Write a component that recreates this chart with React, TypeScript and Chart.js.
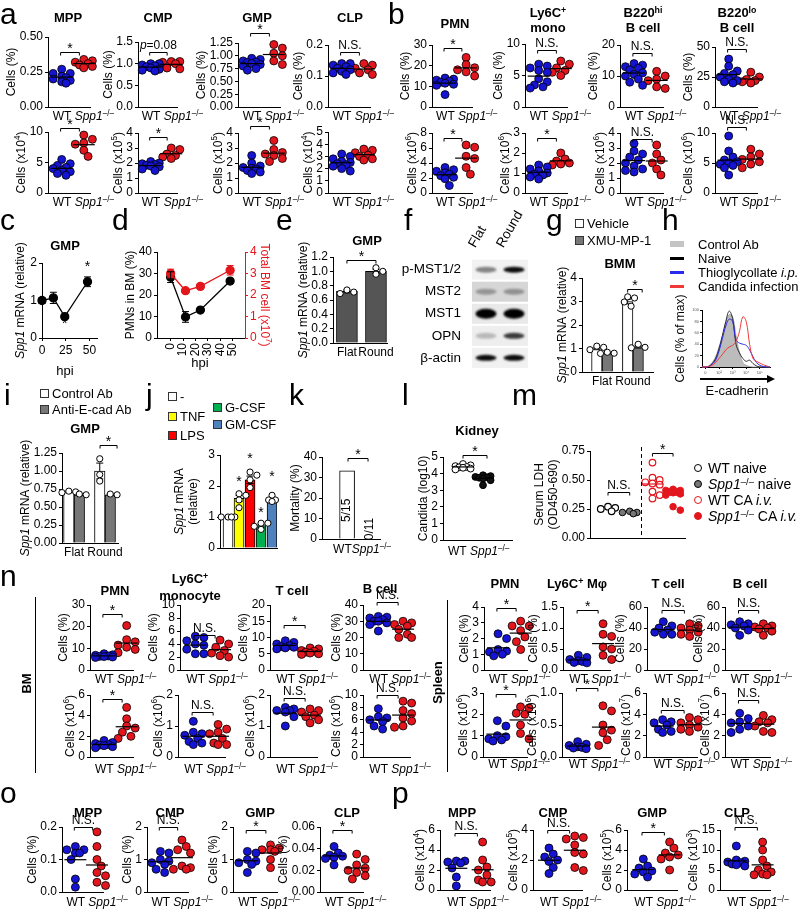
import React, { useEffect, useRef } from 'react';
import { Chart, registerables } from 'chart.js';

Chart.register(...registerables);

const FONT = '"Liberation Sans", Arial, Helvetica, sans-serif';
const BLUE = '#1414d2';
const RED = '#e3161d';

/* ================= DATA ================= */
// panel a
const aMppPctWT = [0.27, 0.24, 0.24, 0.22, 0.21, 0.2, 0.19, 0.18, 0.17];
const aMppPctKO = [0.34, 0.33, 0.32, 0.31, 0.3, 0.29, 0.28];
const aCmpPctWT = [1.0, 1.0, 0.97, 0.95, 0.93, 0.9, 0.87, 0.85, 0.83];
const aCmpPctKO = [1.05, 1.05, 1.03, 1.0, 0.9, 0.88];
const aGmpPctWT = [0.95, 0.93, 0.9, 0.88, 0.87, 0.85, 0.83, 0.8, 0.75, 0.72];
const aGmpPctKO = [1.22, 1.15, 1.05, 1.0, 0.9, 0.83];
const aClpPctWT = [0.14, 0.14, 0.135, 0.13, 0.125, 0.12, 0.115, 0.11, 0.105];
const aClpPctKO = [0.14, 0.135, 0.125, 0.12, 0.11, 0.105];
const aMppNumWT = [5.5, 4.8, 4.5, 4.2, 4.0, 3.7, 3.5, 3.2, 2.9];
const aMppNumKO = [9.5, 8.8, 8.2, 8.0, 7.0, 6.0];
const aCmpNumWT = [2.1, 2.0, 1.95, 1.9, 1.85, 1.8, 1.75, 1.6, 1.5];
const aCmpNumKO = [3.0, 2.9, 2.6, 2.5, 2.4, 2.3];
const aGmpNumWT = [2.5, 2.0, 1.8, 1.7, 1.65, 1.6, 1.5, 1.4, 1.3];
const aGmpNumKO = [3.5, 2.9, 2.7, 2.6, 2.5, 2.3, 2.1];
const aClpNumWT = [3.2, 3.0, 2.8, 2.6, 2.5, 2.4, 2.3, 2.2, 2.0, 1.8];
const aClpNumKO = [3.6, 3.5, 3.3, 3.1, 3.0, 2.8, 2.7];
// panel b
const bPmnPctWT = [14, 13.5, 13, 12.5, 12, 11.5, 11, 10.5, 6];
const bPmnPctKO = [24, 20.5, 19, 18, 17, 15];
const bMonoPctWT = [6.8, 6.5, 6.2, 5.8, 5.5, 4.5, 4.0, 3.5, 3.2, 3.0];
const bMonoPctKO = [7.3, 6.8, 6.2, 5.8, 5.5, 5.0];
const bBhiPctWT = [14, 13.5, 13, 12.5, 12, 11, 10.5, 10, 9, 8, 7];
const bBhiPctKO = [11.5, 10, 9, 8.5, 6.5, 6];
const bBloPctWT = [40, 34, 30, 28, 27, 25, 23, 22, 21, 20];
const bBloPctKO = [29, 25, 23, 22, 21, 20];
const bPmnNumWT = [3.4, 3.1, 2.9, 2.7, 2.5, 2.3, 2.1, 1.9, 1.0];
const bPmnNumKO = [6.4, 6.1, 4.9, 4.6, 3.4, 2.5];
const bMonoNumWT = [1.4, 1.3, 1.2, 1.1, 1.0, 0.95, 0.9, 0.8, 0.7];
const bMonoNumKO = [2.0, 1.7, 1.6, 1.5, 1.45, 1.4];
const bBhiNumWT = [3.3, 2.8, 2.6, 2.4, 2.2, 2.0, 1.8, 1.6, 1.5, 1.4];
const bBhiNumKO = [3.2, 2.6, 2.2, 2.0, 1.6, 1.2];
const bBloNumWT = [9.5, 7.0, 6.0, 5.5, 5.2, 5.0, 4.8, 4.6, 4.2, 3.0];
const bBloNumKO = [7.3, 6.5, 6.0, 5.6, 5.2, 4.8, 4.2];
// panel c
const cHpi = [0, 12, 24, 48];
const cMean = [1.0, 1.07, 0.57, 1.5];
const cErr = [0.08, 0.15, 0.03, 0.13];
// panel d
const dHpi = [0, 12, 24, 48];
const dPmn = [28.3, 9.8, 13, 26.5];
const dPmnErr = [2.5, 2.5, 0.8, 0.6];
const dTotal = [3.0, 2.2, 2.4, 3.15];
const dTotalErr = [0.2, 0.08, 0.06, 0.22];
// panel e
const eLabels = ['Flat', 'Round'];
const eMean = [0.72, 1.0];
const eErr = [0.02, 0.03];
const ePts = [[0.74, 0.71, 0.69], [1.05, 1.0, 0.96]];
// panel f (band intensities)
const fRows = ['p-MST1/2', 'MST2', 'MST1', 'OPN', 'β-actin'];
const fLanes = ['Flat', 'Round'];
const fFlat = [0.45, 0.3, 1.0, 0.22, 0.95];
const fRound = [0.95, 0.32, 1.0, 0.75, 0.95];
// panel g
const gVeh = [1.0, 3.0];
const gVehErr = [0.05, 0.1];
const gVehPts = [[1.1, 1.05, 0.95], [3.2, 3.15, 2.98, 2.8]];
const gXmu = [0.8, 1.08];
const gXmuErr = [0.03, 0.06];
const gXmuPts = [[0.84, 0.8, 0.79], [1.18, 1.05, 1.03]];
// panel h
const hBins = [0, 5, 10, 15, 20, 25, 30, 35, 40, 45, 50, 55, 60, 65, 70, 75, 80, 85, 90, 95, 100];
const hCtrl = [0, 0, 2, 8, 18, 35, 55, 78, 92, 88, 55, 25, 8, 3, 1, 0, 0, 0, 0, 0, 0];
const hNaive = [0, 0, 1, 6, 15, 32, 55, 80, 98, 85, 40, 25, 15, 10, 12, 6, 2, 0, 0, 0, 0];
const hThio = [0, 0, 1, 5, 12, 28, 50, 72, 84, 80, 48, 42, 40, 38, 30, 18, 8, 3, 1, 0, 0];
const hCand = [0, 0, 1, 3, 8, 15, 22, 30, 35, 38, 45, 62, 88, 80, 40, 15, 10, 7, 4, 2, 0];
// panel i
const iCtrl = [0.71, 1.0];
const iCtrlErr = [0.01, 0.11];
const iCtrlPts = [[0.72, 0.71, 0.7], [1.17, 0.95, 0.86]];
const iAnti = [0.67, 0.67];
const iAntiErr = [0.01, 0.01];
const iAntiPts = [[0.68, 0.67], [0.68, 0.67]];
// panel j
const jMean = [1.0, 1.6, 2.2, 0.72, 1.55];
const jErr = [0.01, 0.1, 0.12, 0.05, 0.05];
const jPts = [[1.0, 1.0, 1.0, 1.0], [1.75, 1.7, 1.55, 1.3], [2.45, 2.35, 2.2, 1.95], [0.8, 0.8, 0.7, 0.6], [1.7, 1.55, 1.55, 1.5]];
// panel k
const kMort = [33.3, 0];
const kText = ['5/15', '0/11'];
// panel l
const lWT = [4.58, 4.5, 4.45, 4.4, 4.38, 4.35, 4.3, 4.25];
const lKO = [3.9, 3.85, 3.8, 3.78, 3.75, 3.7, 3.6, 3.3];
// panel m
const mWtNaive = [0.27, 0.26, 0.25, 0.23];
const mKoNaive = [0.23, 0.22, 0.22, 0.21];
const mWtCA = [0.65, 0.52, 0.5, 0.48, 0.47, 0.46, 0.4, 0.37, 0.34];
const mKoCA = [0.42, 0.41, 0.41, 0.4, 0.4, 0.39, 0.38, 0.37, 0.27, 0.24];
// panel n (BM)
const nBmPmnPctWT = [7.5, 7.0, 6.8, 6.5, 6.3, 6.2, 6.0, 5.8];
const nBmPmnPctKO = [20.5, 14, 13, 11.5, 10.5, 9.5, 8];
const nBmMonoPctWT = [5.2, 5.0, 4.5, 4.0, 3.8, 3.2, 2.5, 2.5];
const nBmMonoPctKO = [4.6, 4.0, 3.5, 3.0, 2.6, 2.2, 2.0];
const nBmTPctWT = [9.0, 8.5, 8.0, 7.5, 7.2, 7.0, 6.8, 6.5];
const nBmTPctKO = [6.8, 6.5, 6.0, 5.8, 5.5, 5.2, 5.0, 4.8];
const nBmBPctWT = [33, 32.5, 32, 31, 30, 30, 29, 28, 24];
const nBmBPctKO = [30, 29, 28, 27, 25, 22, 20, 20];
const nBmPmnNumWT = [1.6, 1.4, 1.3, 1.2, 1.15, 1.1, 1.0, 0.9];
const nBmPmnNumKO = [4.8, 3.7, 3.0, 2.8, 2.4, 2.0, 1.8];
const nBmMonoNumWT = [1.15, 0.8, 0.75, 0.7, 0.6, 0.5, 0.45, 0.4];
const nBmMonoNumKO = [1.05, 0.9, 0.8, 0.75, 0.6, 0.45, 0.4, 0.4];
const nBmTNumWT = [1.6, 1.55, 1.5, 1.5, 1.45, 1.3, 1.0];
const nBmTNumKO = [1.55, 1.5, 1.45, 1.35, 1.3, 1.2, 1.1];
const nBmBNumWT = [7.8, 6.5, 6.3, 6.0, 5.7, 5.0, 4.5];
const nBmBNumKO = [9.0, 8.7, 7.5, 7.0, 6.3, 5.8, 5.0, 4.8];
// panel n (spleen)
const nSpPmnPctWT = [2.3, 2.0, 1.3, 1.2, 1.15, 1.0, 0.9];
const nSpPmnPctKO = [3.1, 2.8, 2.8, 2.5, 2.1, 1.8, 1.3];
const nSpMacPctWT = [0.35, 0.3, 0.25, 0.22, 0.2, 0.18, 0.17];
const nSpMacPctKO = [1.1, 0.85, 0.8, 0.55, 0.5, 0.35, 0.25];
const nSpTPctWT = [46, 42, 40, 38, 36, 34, 34];
const nSpTPctKO = [44, 42, 40, 38, 36, 34, 32];
const nSpBPctWT = [46, 44, 43, 42, 40, 38, 33];
const nSpBPctKO = [44, 42, 41, 40, 39, 37, 33];
const nSpPmnNumWT = [1.7, 1.45, 1.0, 0.95, 0.85, 0.8, 0.75];
const nSpPmnNumKO = [2.35, 2.3, 2.05, 2.0, 1.5, 1.1, 0.85];
const nSpMacNumWT = [0.24, 0.2, 0.18, 0.16, 0.15, 0.14, 0.13];
const nSpMacNumKO = [0.8, 0.72, 0.5, 0.42, 0.38, 0.27, 0.18];
const nSpTNumWT = [3.5, 3.3, 3.2, 3.0, 2.6, 2.4, 2.3];
const nSpTNumKO = [3.7, 3.5, 3.2, 3.0, 2.8, 2.6, 2.4];
const nSpBNumWT = [4.1, 3.6, 3.3, 3.2, 2.9, 2.6, 2.3];
const nSpBNumKO = [3.9, 3.5, 3.3, 3.2, 2.9, 2.4, 2.3];
// panel o
const oMppWT = [0.14, 0.13, 0.13, 0.12, 0.12, 0.1, 0.04, 0.015];
const oMppKO = [0.185, 0.14, 0.1, 0.08, 0.06, 0.05, 0.03, 0.02];
const oCmpWT = [1.25, 1.2, 1.0, 0.95, 0.9, 0.85, 0.7, 0.6];
const oCmpKO = [1.6, 1.4, 1.3, 1.2, 0.8, 0.75, 0.7, 0.7];
const oGmpWT = [1.25, 1.2, 1.0, 0.95, 0.9, 0.85, 0.6];
const oGmpKO = [1.45, 1.35, 1.3, 1.3, 1.25, 1.0, 0.75];
const oClpWT = [0.042, 0.036, 0.034, 0.033, 0.032, 0.031, 0.025];
const oClpKO = [0.035, 0.03, 0.025, 0.022, 0.02, 0.018, 0.015, 0.012];
// panel p
const pMppWT = [2.9, 2.9, 2.8, 2.7, 2.2, 1.3, 0.4];
const pMppKO = [4.8, 3.0, 2.3, 2.0, 1.5, 1.0, 0.8, 0.8];
const pCmpWT = [2.8, 2.4, 2.2, 2.0, 1.9, 1.5, 1.1];
const pCmpKO = [3.6, 3.5, 3.4, 3.0, 2.5, 2.4, 1.5, 1.3];
const pGmpWT = [3.1, 2.4, 2.2, 1.9, 1.8, 1.6, 1.3];
const pGmpKO = [4.8, 4.2, 3.7, 3.5, 3.3, 3.1, 2.0];
const pClpWT = [11, 7.5, 7.2, 7.0, 6.8, 6.5, 6.3, 6.0];
const pClpKO = [12, 10, 7.5, 6.0, 5.0, 4.5, 4.0, 3.8, 3.8];

/* ================= HELPERS ================= */
type Seg = { t: string; i: boolean; sup: boolean };
function parse(str: string): Seg[] {
  const out: Seg[] = [];
  let it = false, sup = false, cur = '';
  const push = () => { if (cur) out.push({ t: cur, i: it, sup }); cur = ''; };
  for (let k = 0; k < str.length; k++) {
    const c = str[k];
    if (c === '_') { push(); it = !it; }
    else if (c === '^' && str[k + 1] === '{') { push(); sup = true; k++; }
    else if (c === '}' && sup) { push(); sup = false; }
    else cur += c;
  }
  push();
  return out;
}

function rich(ctx: any, str: string, x: number, y: number, size: number, rot: number, color: string, align: string) {
  const segs = parse(str);
  const fontOf = (s: Seg) => `${s.i ? 'italic ' : ''}${s.sup ? size * 0.68 : size}px ${FONT}`;
  const ws = segs.map((s) => { ctx.font = fontOf(s); return ctx.measureText(s.t).width; });
  const total = ws.reduce((a, b) => a + b, 0);
  ctx.save();
  ctx.translate(x, y);
  ctx.rotate(rot);
  ctx.fillStyle = color;
  ctx.textBaseline = 'middle';
  ctx.textAlign = 'left';
  let cx = align === 'center' ? -total / 2 : align === 'right' ? -total : 0;
  segs.forEach((s, i) => { ctx.font = fontOf(s); ctx.fillText(s.t, cx, s.sup ? -size * 0.3 : 0); cx += ws[i]; });
  ctx.restore();
}

// simple beeswarm layout (pixel offsets) so equal values sit side by side
function swarm(ys: number[], r: number, steps = 2): number[] {
  const placed: [number, number][] = [];
  const stepPx = r * 0.95;
  return ys.map((y) => {
    let best = 0, bestD = -1;
    for (let k = 0; k <= steps * 2; k++) {
      const c = k === 0 ? 0 : (k % 2 ? 1 : -1) * Math.ceil(k / 2) * stepPx;
      let d = Infinity;
      placed.forEach(([px, py]) => { d = Math.min(d, Math.hypot(px - c, py - y)); });
      if (d >= 2 * r * 0.8) { best = c; break; }
      if (d > bestD) { bestD = d; best = c; }
    }
    placed.push([best, y]);
    return best;
  });
}

const mean = (a: number[]) => a.reduce((p, c) => p + c, 0) / a.length;

type Box = { l: number; t: number; w: number; h: number; pad: any; YW: number; XH: number; YW2: number };
type ChartDef = { box: Box; cfg: () => any };

function frame(ax: number, xr: number, yt: number, yb: number, o: any = {}): Box {
  const YW = o.yw ?? 72, PT = o.pt ?? 30, PR = o.pr ?? 16, PB = o.pb ?? 28, XH = o.xh ?? 0, YW2 = o.yw2 ?? 0;
  return { l: ax - YW, t: yt - PT, w: xr - ax + YW + PR + YW2, h: yb - yt + PT + PB, pad: { left: 0, top: PT, right: PR, bottom: PB - XH }, YW, XH, YW2 };
}

function baseOpts(f: Box, scales: any) {
  return {
    responsive: false, animation: false, devicePixelRatio: 1, events: [],
    layout: { padding: f.pad, autoPadding: false },
    plugins: { legend: { display: false }, tooltip: { enabled: false }, title: { display: false } },
    scales,
  };
}

function yLin(max: number, step: number, dec: number, f: Box, color = '#000', pos = 'left', size = 12) {
  return {
    type: 'linear', position: pos, min: 0, max,
    ticks: { stepSize: step, autoSkip: false, callback: (v: any) => Number(v).toFixed(dec), font: { family: FONT, size }, color, padding: 2 },
    grid: { display: true, drawOnChartArea: false, drawTicks: true, tickLength: 3, color, lineWidth: 1 },
    border: { display: true, color, width: 1 },
    afterFit: (sc: any) => { sc.width = pos === 'left' ? f.YW : f.YW2; },
  };
}

function xLin(min: number, max: number, f: Box) {
  return {
    type: 'linear', position: 'bottom', min, max, offset: false,
    ticks: { display: false }, grid: { display: false },
    border: { display: true, color: '#000', width: 1 },
    afterFit: (sc: any) => { sc.height = f.XH; },
  };
}

interface Deco {
  yt?: string; tgap?: number; ytR?: string; colR?: string;
  xl?: { x: number; t: string; dx?: number; align?: string }[]; xlDy?: number;
  br?: { x0: number; x1: number; y: number; t: string }[];
  tx?: { x: number; y: number; t: string; rot?: number; size?: number }[];
  vdash?: number; arrow?: boolean;
}

function deco(D: Deco) {
  return {
    id: 'deco',
    afterDatasetsDraw(chart: any) {
      const { ctx, scales } = chart;
      ctx.save();
      chart.data.datasets.forEach((ds: any, di: number) => {
        const meta = chart.getDatasetMeta(di);
        const yS = scales[ds.yAxisID || 'y'];
        if (ds.err) {
          ctx.strokeStyle = ds.errColor || '#000';
          ctx.lineWidth = 1;
          meta.data.forEach((el: any, i: number) => {
            const v = ds.data[i].y, e = ds.err[i];
            if (!e) return;
            const y1 = yS.getPixelForValue(v - e), y2 = yS.getPixelForValue(v + e);
            ctx.beginPath();
            ctx.moveTo(el.x, y1); ctx.lineTo(el.x, y2);
            ctx.moveTo(el.x - 3.5, y2); ctx.lineTo(el.x + 3.5, y2);
            ctx.moveTo(el.x - 3.5, y1); ctx.lineTo(el.x + 3.5, y1);
            ctx.stroke();
          });
        }
        if (ds.pts) {
          meta.data.forEach((el: any, i: number) => {
            const vals: number[] = ds.pts[i] || [];
            const pys = vals.map((v) => yS.getPixelForValue(v));
            const off = swarm(pys, 3.6);
            pys.forEach((py, k) => {
              ctx.beginPath();
              ctx.arc(el.x + off[k], py, 3.1, 0, Math.PI * 2);
              ctx.fillStyle = '#fff'; ctx.fill();
              ctx.strokeStyle = '#000'; ctx.lineWidth = 1; ctx.stroke();
            });
          });
        }
      });
      ctx.restore();
    },
    afterDraw(chart: any) {
      const { ctx, chartArea: ca, scales } = chart;
      const xs = scales.x, ys = scales.y;
      ctx.save();
      const tw = (sc: any) => {
        const sz = (sc.options.ticks.font && sc.options.ticks.font.size) || 12;
        ctx.font = `${sz}px ${FONT}`;
        let m = 0;
        sc.ticks.forEach((t: any) => { const w = ctx.measureText(String(t.label ?? '')).width; if (w > m) m = w; });
        return m;
      };
      const mid = (ca.top + ca.bottom) / 2;
      if (D.yt) {
        const sz = 12;
        const lines = D.yt.split('\n');
        const x0 = ca.left - 5 - tw(ys) - (D.tgap ?? 2) - sz / 2;
        lines.forEach((ln, k) => rich(ctx, ln, x0 - (lines.length - 1 - k) * (sz + 2), mid, sz, -Math.PI / 2, '#000', 'center'));
      }
      if (D.ytR) {
        const x0 = ca.right + 5 + tw(scales.y2) + 2 + 6;
        rich(ctx, D.ytR, x0, mid, 12, Math.PI / 2, D.colR || '#000', 'center');
      }
      (D.xl || []).forEach((l) => rich(ctx, l.t, xs.getPixelForValue(l.x) + (l.dx || 0), ca.bottom + (D.xlDy ?? 10), 12, 0, '#000', l.align || 'center'));
      (D.br || []).forEach((b) => {
        const y = Math.round(ys.getPixelForValue(b.y)) + 0.5;
        const x0 = xs.getPixelForValue(b.x0), x1 = xs.getPixelForValue(b.x1);
        ctx.strokeStyle = '#000'; ctx.lineWidth = 1;
        ctx.beginPath(); ctx.moveTo(x0, y + 3); ctx.lineTo(x0, y); ctx.lineTo(x1, y); ctx.lineTo(x1, y + 3); ctx.stroke();
        const star = b.t === '*';
        rich(ctx, b.t, (x0 + x1) / 2, y - (star ? 3 : 7), star ? 14 : 12, 0, '#000', 'center');
      });
      (D.tx || []).forEach((t) => rich(ctx, t.t, xs.getPixelForValue(t.x), ys.getPixelForValue(t.y), t.size || 12, t.rot || 0, '#000', 'center'));
      if (D.vdash != null) {
        const x = Math.round(xs.getPixelForValue(D.vdash)) + 0.5;
        ctx.strokeStyle = '#000'; ctx.lineWidth = 1; ctx.setLineDash([4, 3]);
        ctx.beginPath(); ctx.moveTo(x, ca.top - 4); ctx.lineTo(x, ca.bottom); ctx.stroke();
        ctx.setLineDash([]);
      }
      if (D.arrow) {
        const y = ca.bottom + 12;
        ctx.strokeStyle = '#000'; ctx.fillStyle = '#000'; ctx.lineWidth = 2;
        ctx.beginPath(); ctx.moveTo(ca.left - 2, y); ctx.lineTo(ca.right, y); ctx.stroke();
        ctx.beginPath(); ctx.moveTo(ca.right + 5, y); ctx.lineTo(ca.right - 3, y - 4); ctx.lineTo(ca.right - 3, y + 4); ctx.closePath(); ctx.fill();
      }
      ctx.restore();
    },
  };
}

/* ================= DOT PLOTS ================= */
interface DotSpec { ax: number; xr: number; yt: number; yb: number; max: number; step: number; dec: number; wt: number[]; ko: number[]; yl: string; br?: number; bt?: string; ld?: number }
const KOLAB = 'WT _Spp1_^{–/–}';

function dotChart(s: DotSpec): ChartDef {
  const f = frame(s.ax, s.xr, s.yt, s.yb, { pr: 44 });
  const xmin = -0.62, xmax = 1.28;
  const unit = (s.xr - s.ax) / (xmax - xmin);
  const pyu = (s.yb - s.yt) / s.max;
  const r = 4;
  const pts = (vals: number[], g: number) => {
    const off = swarm(vals.map((v) => -v * pyu), r + 0.5, 2);
    return vals.map((v, i) => ({ x: g + off[i] / unit, y: v }));
  };
  const hw = 11 / unit;
  const mw = mean(s.wt), mk = mean(s.ko);
  const line = (g: number, m: number) => ({ data: [{ x: g - hw, y: m }, { x: g + hw, y: m }], showLine: true, borderColor: '#000', borderWidth: 1.2, pointRadius: 0, clip: false });
  return {
    box: f,
    cfg: () => ({
      type: 'scatter',
      data: {
        datasets: [
          line(0, mw), line(1, mk),
          { data: pts(s.wt, 0), backgroundColor: BLUE, borderColor: '#000', borderWidth: 0.8, pointRadius: r, clip: false },
          { data: pts(s.ko, 1), backgroundColor: RED, borderColor: '#000', borderWidth: 0.8, pointRadius: r, clip: false },
        ],
      },
      options: baseOpts(f, { x: xLin(xmin, xmax, f), y: yLin(s.max, s.step, s.dec, f) }),
      plugins: [deco({
        yt: s.yl,
        xl: [{ x: 0, dx: -9, t: KOLAB, align: 'left' }], xlDy: s.ld ?? 10,
        br: s.br != null ? [{ x0: -0.05, x1: 0.8, y: s.br, t: s.bt ?? '*' }] : [],
      })],
    }),
  };
}

const P = 'Cells (%)';
const X = (e: number) => `Cells (x10^{${e}})`;
const NS = 'N.S.';
const dots: DotSpec[] = [
  { ax: 48, xr: 90, yt: 37, yb: 107, max: 0.5, step: 0.25, dec: 2, wt: aMppPctWT, ko: aMppPctKO, yl: P, br: 0.39 },
  { ax: 138, xr: 177, yt: 42, yb: 107, max: 1.5, step: 0.5, dec: 1, wt: aCmpPctWT, ko: aCmpPctKO, yl: P, br: 1.27, bt: '_p_=0.08' },
  { ax: 238, xr: 280, yt: 43, yb: 107, max: 1.25, step: 0.25, dec: 2, wt: aGmpPctWT, ko: aGmpPctKO, yl: P, br: 1.45 },
  { ax: 328, xr: 370, yt: 45, yb: 107, max: 0.2, step: 0.1, dec: 1, wt: aClpPctWT, ko: aClpPctKO, yl: P, br: 0.177, bt: NS },
  { ax: 48, xr: 90, yt: 132, yb: 193, max: 10, step: 5, dec: 0, wt: aMppNumWT, ko: aMppNumKO, yl: X(4), br: 10.7 },
  { ax: 138, xr: 177, yt: 133, yb: 193, max: 4, step: 1, dec: 0, wt: aCmpNumWT, ko: aCmpNumKO, yl: X(5), br: 3.73 },
  { ax: 238, xr: 280, yt: 133, yb: 193, max: 4, step: 1, dec: 0, wt: aGmpNumWT, ko: aGmpNumKO, yl: X(5), br: 4.47 },
  { ax: 328, xr: 370, yt: 132, yb: 193, max: 5, step: 1, dec: 0, wt: aClpNumWT, ko: aClpNumKO, yl: X(4) },
  { ax: 432, xr: 472, yt: 45, yb: 107, max: 30, step: 10, dec: 0, wt: bPmnPctWT, ko: bPmnPctKO, yl: P, br: 28.5 },
  { ax: 525, xr: 567, yt: 44, yb: 107, max: 10, step: 5, dec: 0, wt: bMonoPctWT, ko: bMonoPctKO, yl: P, br: 9, bt: NS },
  { ax: 620, xr: 663, yt: 45, yb: 107, max: 20, step: 10, dec: 0, wt: bBhiPctWT, ko: bBhiPctKO, yl: P, br: 17.5, bt: NS },
  { ax: 715, xr: 757, yt: 47, yb: 107, max: 50, step: 25, dec: 0, wt: bBloPctWT, ko: bBloPctKO, yl: P, br: 48, bt: NS },
  { ax: 432, xr: 472, yt: 133, yb: 193, max: 8, step: 2, dec: 0, wt: bPmnNumWT, ko: bPmnNumKO, yl: X(6), br: 7.3 },
  { ax: 525, xr: 567, yt: 133, yb: 193, max: 3, step: 1, dec: 0, wt: bMonoNumWT, ko: bMonoNumKO, yl: X(6), br: 2.75 },
  { ax: 620, xr: 663, yt: 133, yb: 193, max: 4, step: 1, dec: 0, wt: bBhiNumWT, ko: bBhiNumKO, yl: X(6), br: 3.6, bt: NS },
  { ax: 715, xr: 757, yt: 133, yb: 193, max: 10, step: 5, dec: 0, wt: bBloNumWT, ko: bBloNumKO, yl: X(6), br: 11, bt: NS },
  { ax: 90, xr: 133, yt: 605, yb: 670, max: 30, step: 10, dec: 0, wt: nBmPmnPctWT, ko: nBmPmnPctKO, yl: P, br: 26 },
  { ax: 180, xr: 227, yt: 605, yb: 670, max: 10, step: 2, dec: 0, wt: nBmMonoPctWT, ko: nBmMonoPctKO, yl: P, br: 5.4, bt: NS },
  { ax: 270, xr: 317, yt: 605, yb: 670, max: 20, step: 5, dec: 0, wt: nBmTPctWT, ko: nBmTPctKO, yl: P, br: 13.8 },
  { ax: 363, xr: 410, yt: 605, yb: 670, max: 40, step: 10, dec: 0, wt: nBmBPctWT, ko: nBmBPctKO, yl: P, br: 42, bt: NS },
  { ax: 90, xr: 133, yt: 695, yb: 757, max: 6, step: 2, dec: 0, wt: nBmPmnNumWT, ko: nBmPmnNumKO, yl: X(6), br: 5.6, ld: 13 },
  { ax: 178, xr: 225, yt: 695, yb: 757, max: 2, step: 1, dec: 0, wt: nBmMonoNumWT, ko: nBmMonoNumKO, yl: X(6), br: 1.45, bt: NS, ld: 13 },
  { ax: 270, xr: 317, yt: 695, yb: 757, max: 2, step: 1, dec: 0, wt: nBmTNumWT, ko: nBmTNumKO, yl: X(6), br: 1.9, bt: NS, ld: 13 },
  { ax: 363, xr: 410, yt: 695, yb: 757, max: 10, step: 2, dec: 0, wt: nBmBNumWT, ko: nBmBNumKO, yl: X(6), br: 10, bt: NS, ld: 13 },
  { ax: 484, xr: 527, yt: 607, yb: 670, max: 4, step: 1, dec: 0, wt: nSpPmnPctWT, ko: nSpPmnPctKO, yl: P, br: 3.95 },
  { ax: 563, xr: 610, yt: 607, yb: 670, max: 1.5, step: 0.5, dec: 1, wt: nSpMacPctWT, ko: nSpMacPctKO, yl: P, br: 1.43 },
  { ax: 647, xr: 697, yt: 607, yb: 670, max: 60, step: 20, dec: 0, wt: nSpTPctWT, ko: nSpTPctKO, yl: P, br: 57, bt: NS },
  { ax: 725, xr: 770, yt: 607, yb: 670, max: 60, step: 20, dec: 0, wt: nSpBPctWT, ko: nSpBPctKO, yl: P, br: 57, bt: NS },
  { ax: 483, xr: 527, yt: 693, yb: 757, max: 3, step: 1, dec: 0, wt: nSpPmnNumWT, ko: nSpPmnNumKO, yl: X(6), br: 2.95, ld: 8 },
  { ax: 562, xr: 610, yt: 693, yb: 757, max: 1, step: 0.5, dec: 1, wt: nSpMacNumWT, ko: nSpMacNumKO, yl: X(6), br: 1.08, ld: 8 },
  { ax: 646, xr: 697, yt: 693, yb: 757, max: 6, step: 2, dec: 0, wt: nSpTNumWT, ko: nSpTNumKO, yl: X(7), br: 4.4, bt: NS, ld: 8 },
  { ax: 725, xr: 770, yt: 693, yb: 757, max: 6, step: 2, dec: 0, wt: nSpBNumWT, ko: nSpBNumKO, yl: X(7), br: 5.3, bt: NS, ld: 8 },
  { ax: 62, xr: 103, yt: 827, yb: 892, max: 0.2, step: 0.1, dec: 1, wt: oMppWT, ko: oMppKO, yl: P, br: 0.2, bt: NS, ld: 11 },
  { ax: 147, xr: 188, yt: 827, yb: 892, max: 2, step: 1, dec: 0, wt: oCmpWT, ko: oCmpKO, yl: P, br: 2.0, bt: NS, ld: 11 },
  { ax: 233, xr: 277, yt: 827, yb: 892, max: 2, step: 1, dec: 0, wt: oGmpWT, ko: oGmpKO, yl: P, br: 1.9, ld: 11 },
  { ax: 320, xr: 363, yt: 827, yb: 892, max: 0.06, step: 0.02, dec: 2, wt: oClpWT, ko: oClpKO, yl: P, br: 0.057, ld: 11 },
  { ax: 440, xr: 490, yt: 830, yb: 890, max: 6, step: 2, dec: 0, wt: pMppWT, ko: pMppKO, yl: X(4), br: 5.7, bt: NS, ld: 13 },
  { ax: 533, xr: 582, yt: 830, yb: 890, max: 4, step: 2, dec: 0, wt: pCmpWT, ko: pCmpKO, yl: X(5), br: 4.0, bt: NS, ld: 13 },
  { ax: 627, xr: 677, yt: 830, yb: 890, max: 6, step: 2, dec: 0, wt: pGmpWT, ko: pGmpKO, yl: X(5), br: 5.8, ld: 13 },
  { ax: 720, xr: 770, yt: 830, yb: 890, max: 15, step: 5, dec: 0, wt: pClpWT, ko: pClpKO, yl: X(3), br: 15.7, bt: NS, ld: 13 },
];

/* ================= OTHER CHARTS ================= */
const xyz = (xs: number[], ys: number[]) => xs.map((x, i) => ({ x, y: ys[i] }));

function barDs(xs: number[], vals: number[], color: any, err: number[], pts: number[][] | null, thick: number) {
  return { type: 'bar', data: xyz(xs, vals), backgroundColor: color, borderColor: '#000', borderWidth: 1, barThickness: thick, err, pts };
}

const others: ChartDef[] = [];

// c
{
  const f = frame(42, 97, 263, 338, { xh: 20, pb: 22 });
  others.push({ box: f, cfg: () => ({
    type: 'line',
    data: { datasets: [{ data: xyz(cHpi, cMean), err: cErr, borderColor: '#000', backgroundColor: '#000', borderWidth: 1.3, pointRadius: 4, clip: false }] },
    options: baseOpts(f, {
      x: { type: 'linear', min: 0, max: 58, afterBuildTicks: (sc: any) => { sc.ticks = [0, 25, 50].map((v) => ({ value: v })); },
        ticks: { font: { family: FONT, size: 12 }, color: '#000', padding: 2, maxRotation: 0 },
        grid: { display: true, drawOnChartArea: false, tickLength: 3, color: '#000' }, border: { display: true, color: '#000' },
        afterFit: (sc: any) => { sc.height = f.XH; } },
      y: yLin(2, 1, 0, f),
    }),
    plugins: [deco({ yt: '_Spp1_ mRNA (relative)', tgap: 4, tx: [{ x: 24, y: 0.36, t: '*', size: 14 }, { x: 48, y: 1.9, t: '*', size: 14 }] })],
  }) });
}
// d
{
  const f = frame(157, 245, 252, 338, { xh: 22, pb: 24, yw2: 60, pr: 0 });
  others.push({ box: f, cfg: () => ({
    type: 'line',
    data: { datasets: [
      { data: xyz(dHpi, dTotal), err: dTotalErr, errColor: RED, yAxisID: 'y2', borderColor: RED, backgroundColor: RED, borderWidth: 1.3, pointRadius: 4, clip: false },
      { data: xyz(dHpi, dPmn), err: dPmnErr, borderColor: '#000', backgroundColor: '#000', borderWidth: 1.3, pointRadius: 4, clip: false },
    ] },
    options: baseOpts(f, {
      x: { type: 'linear', min: -11, max: 60, afterBuildTicks: (sc: any) => { sc.ticks = [0, 10, 20, 30, 40, 50].map((v) => ({ value: v })); },
        ticks: { font: { family: FONT, size: 12 }, color: '#000', padding: 2, minRotation: 90, maxRotation: 90 },
        grid: { display: true, drawOnChartArea: false, tickLength: 3, color: '#000' }, border: { display: true, color: '#000' },
        afterFit: (sc: any) => { sc.height = f.XH; } },
      y: yLin(40, 10, 0, f),
      y2: yLin(4, 1, 0, f, RED, 'right'),
    }),
    plugins: [deco({ yt: 'PMNs in BM (%)', ytR: 'Total BM cell (x10^{7})', colR: RED })],
  }) });
}
// e
{
  const f = frame(333, 387, 257, 343);
  others.push({ box: f, cfg: () => ({
    type: 'bar',
    data: { datasets: [barDs([0, 1], eMean, '#555555', eErr, ePts, 21)] },
    options: baseOpts(f, { x: xLin(-0.48, 1.38, f), y: yLin(1.2, 0.2, 1, f) }),
    plugins: [deco({ yt: '_Spp1_ mRNA (relative)', xl: eLabels.map((t, i) => ({ x: i, t })), br: [{ x0: 0, x1: 1, y: 1.16, t: '*' }] })],
  }) });
}
// g
{
  const f = frame(582, 653, 278, 372);
  others.push({ box: f, cfg: () => ({
    type: 'bar',
    data: { datasets: [barDs([0, 1], gVeh, '#ffffff', gVehErr, gVehPts, 10.5), barDs([0, 1], gXmu, '#777777', gXmuErr, gXmuPts, 10.5)] },
    options: baseOpts(f, { x: xLin(-0.65, 1.65, f), y: yLin(4, 1, 0, f) }),
    plugins: [deco({ yt: '_Spp1_ mRNA (relative)', xl: eLabels.map((t, i) => ({ x: i, t })), br: [{ x0: 0.83, x1: 1.3, y: 3.55, t: '*' }] })],
  }) });
}
// i
{
  const f = frame(62, 118, 453, 543);
  others.push({ box: f, cfg: () => ({
    type: 'bar',
    data: { datasets: [barDs([0, 1], iCtrl, '#ffffff', iCtrlErr, iCtrlPts, 10.5), barDs([0, 1], iAnti, '#777777', iAntiErr, iAntiPts, 10.5)] },
    options: baseOpts(f, { x: xLin(-0.39, 1.42, f), y: yLin(1.25, 0.25, 2, f) }),
    plugins: [deco({ yt: '_Spp1_ mRNA (relative)', xl: eLabels.map((t, i) => ({ x: i, t })), br: [{ x0: 0.84, x1: 1.39, y: 1.36, t: '*' }] })],
  }) });
}
// j
{
  const f = frame(220, 277, 455, 548);
  const jColors = ['#ffffff', '#ffff00', '#ff0000', '#00b050', '#4f81bd'];
  others.push({ box: f, cfg: () => ({
    type: 'bar',
    data: { datasets: [barDs([0, 1, 2, 3, 4], jMean, jColors, jErr, jPts, 10)] },
    options: baseOpts(f, { x: xLin(-0.73, 4.45, f), y: yLin(3, 1, 0, f) }),
    plugins: [deco({ yt: '_Spp1_ mRNA\n(relative)', tgap: 9, tx: [{ x: 1, y: 2.13, t: '*', size: 14 }, { x: 2, y: 2.88, t: '*', size: 14 }, { x: 3, y: 1.12, t: '*', size: 14 }, { x: 4, y: 2.3, t: '*', size: 14 }] })],
  }) });
}
// k
{
  const f = frame(322, 380, 457, 539, { pr: 30 });
  others.push({ box: f, cfg: () => ({
    type: 'bar',
    data: { datasets: [barDs([0, 1], kMort, '#ffffff', [0, 0], null, 15)] },
    options: baseOpts(f, { x: xLin(-1.09, 1.43, f), y: yLin(40, 10, 0, f) }),
    plugins: [deco({
      yt: 'Mortality (%)',
      xl: [{ x: 0, dx: -14, t: 'WT_Spp1_^{–/–}', align: 'left' }], xlDy: 11,
      br: [{ x0: 0.04, x1: 0.91, y: 39.5, t: '*' }],
      tx: [{ x: 0, y: 14, t: kText[0], rot: -Math.PI / 2 }, { x: 1, y: 4.9, t: kText[1], rot: -Math.PI / 2 }],
    })],
  }) });
}
// l
{
  const f = frame(443, 512, 457, 540);
  const unit = (512 - 443) / 3.45;
  const pyu = (540 - 457) / 5;
  const pts = (vals: number[], g: number) => { const off = swarm(vals.map((v) => -v * pyu), 4, 2); return vals.map((v, i) => ({ x: g + off[i] / unit, y: v })); };
  const hw = 11 / unit;
  const ln = (g: number, m: number) => ({ data: [{ x: g - hw, y: m }, { x: g + hw, y: m }], showLine: true, borderColor: '#000', borderWidth: 1.2, pointRadius: 0, clip: false });
  others.push({ box: f, cfg: () => ({
    type: 'scatter',
    data: { datasets: [
      ln(0, mean(lWT)), ln(1, mean(lKO)),
      { data: pts(lWT, 0), backgroundColor: '#ffffff', borderColor: '#000', borderWidth: 1, pointRadius: 3.4, clip: false },
      { data: pts(lKO, 1), backgroundColor: '#111111', borderColor: '#000', borderWidth: 1, pointRadius: 3.4, clip: false },
    ] },
    options: baseOpts(f, { x: xLin(-1, 2.45, f), y: yLin(5, 1, 0, f) }),
    plugins: [deco({ yt: 'Candida (log10)', xl: [{ x: 0, dx: -15, t: 'WT _Spp1_^{–/–}', align: 'left' }], xlDy: 12, br: [{ x0: 0, x1: 1.2, y: 5.1, t: '*' }] })],
  }) });
}
// m
{
  const f = frame(590, 685, 451, 538);
  const unit = (685 - 590) / 4.38;
  const pyu = (538 - 451) / 0.75;
  const gx = [0, 1, 2.05, 3];
  const pts = (vals: number[], g: number) => { const off = swarm(vals.map((v) => -v * pyu), 3.8, 2); return vals.map((v, i) => ({ x: g + off[i] / unit, y: v })); };
  const hw = 11 / unit;
  const ln = (g: number, m: number, c: string) => ({ data: [{ x: g - hw, y: m }, { x: g + hw, y: m }], showLine: true, borderColor: c, borderWidth: 1.2, pointRadius: 0, clip: false });
  others.push({ box: f, cfg: () => ({
    type: 'scatter',
    data: { datasets: [
      ln(gx[2], mean(mWtCA), RED), ln(gx[3], mean(mKoCA), RED),
      { data: pts(mWtNaive, gx[0]), backgroundColor: '#ffffff', borderColor: '#000', borderWidth: 1.2, pointRadius: 3.3, clip: false },
      { data: pts(mKoNaive, gx[1]), backgroundColor: '#777777', borderColor: '#000', borderWidth: 1, pointRadius: 3.3, clip: false },
      { data: pts(mWtCA, gx[2]), backgroundColor: '#ffffff', borderColor: RED, borderWidth: 1.2, pointRadius: 3.3, clip: false },
      { data: pts(mKoCA, gx[3]), backgroundColor: RED, borderColor: RED, borderWidth: 1, pointRadius: 3.3, clip: false },
    ] },
    options: baseOpts(f, { x: xLin(-0.83, 3.55, f), y: yLin(0.75, 0.25, 2, f) }),
    plugins: [deco({ yt: 'Serum LDH\n(OD450-690)', vdash: 1.5, br: [{ x0: 0, x1: 1, y: 0.4, t: 'N.S.' }, { x0: 2.05, x1: 3, y: 0.73, t: '*' }] })],
  }) });
}
// h
{
  const f = frame(702, 770, 310, 367, { pb: 22, xh: 8, yw: 40 });
  const hx = ['0', '10²', '10³', '10⁴', '10⁵'];
  others.push({ box: f, cfg: () => ({
    type: 'line',
    data: { datasets: [
      { data: xyz(hBins, hCand), borderColor: '#f03a3a', borderWidth: 1, pointRadius: 0, tension: 0.4, fill: false, clip: false },
      { data: xyz(hBins, hThio), borderColor: '#2b2bf0', borderWidth: 1, pointRadius: 0, tension: 0.4, fill: false, clip: false },
      { data: xyz(hBins, hNaive), borderColor: '#000000', borderWidth: 0.8, pointRadius: 0, tension: 0.4, fill: false, clip: false },
      { data: xyz(hBins, hCtrl), borderColor: '#9a9a9a', backgroundColor: '#bcbcbc', borderWidth: 0.8, pointRadius: 0, tension: 0.4, fill: 'origin', clip: false },
    ] },
    options: baseOpts(f, {
      x: { type: 'linear', min: 0, max: 100, afterBuildTicks: (sc: any) => { sc.ticks = [5, 25, 45, 65, 85].map((v) => ({ value: v })); },
        ticks: { font: { family: FONT, size: 4 }, color: '#555', padding: 1, maxRotation: 0, callback: (v: any, i: number) => hx[i] },
        grid: { display: true, drawOnChartArea: false, tickLength: 2, color: '#000' }, border: { display: true, color: '#000' },
        afterFit: (sc: any) => { sc.height = f.XH; } },
      y: { type: 'linear', min: 0, max: 100, ticks: { stepSize: 20, font: { family: FONT, size: 4 }, color: '#555', padding: 1 },
        grid: { display: true, drawOnChartArea: false, tickLength: 2, color: '#000' }, border: { display: true, color: '#000' },
        afterFit: (sc: any) => { sc.width = f.YW; } },
    }),
    plugins: [deco({ yt: 'Cells (% of max)', tgap: 4, arrow: true })],
  }) });
}
// f (western blot)
{
  const XH = 50.6;
  const box: Box = { l: 397, t: 208, w: 75 + 56 + 26, h: 372.4 - 208 + 8, pad: { left: 0, top: 0, right: 26, bottom: 8 }, YW: 75, XH, YW2: 0 };
  const blotBg = ['#f2f2f2', '#d6d6d6', '#e9e9e9', '#eeeeee', '#f1f1f1'];
  const blotH = [6, 6, 10, 6, 6];
  const blot = {
    id: 'blot',
    afterDraw(chart: any) {
      const { ctx, chartArea: ca, scales } = chart;
      fRows.forEach((_, i) => {
        const cy = scales.y.getPixelForValue(i);
        ctx.fillStyle = blotBg[i];
        ctx.fillRect(ca.left, cy - 10, ca.right - ca.left, 20);
        [fFlat, fRound].forEach((arr, j) => {
          const cx = scales.x.getPixelForValue(j);
          ctx.save();
          ctx.filter = 'blur(1.3px)';
          ctx.fillStyle = `rgba(0,0,0,${arr[i]})`;
          ctx.beginPath();
          ctx.ellipse(cx, cy, 10.5, blotH[i] / 2, 0, 0, Math.PI * 2);
          ctx.fill();
          ctx.restore();
        });
      });
    },
  };
  others.push({ box, cfg: () => ({
    type: 'bar',
    data: { labels: fLanes, datasets: [] },
    options: baseOpts(box, {
      x: { type: 'category', labels: fLanes, position: 'top', offset: true, display: true, grid: { display: false }, border: { display: false },
        ticks: { font: { family: FONT, size: 13.5 }, color: '#000', minRotation: 60, maxRotation: 60, padding: 0 },
        afterFit: (sc: any) => { sc.height = XH; } },
      y: { type: 'category', labels: fRows, position: 'left', offset: true, display: true, grid: { display: false }, border: { display: false },
        ticks: { font: { family: FONT, size: 13.5 }, color: '#000', padding: 3 },
        afterFit: (sc: any) => { sc.width = 75; } },
    }),
    plugins: [blot],
  }) });
}

const allCharts: ChartDef[] = [...dots.map(dotChart), ...others];

/* ================= COMPONENTS ================= */
function ChartBox({ def }: { def: ChartDef }) {
  const ref = useRef<HTMLCanvasElement>(null);
  useEffect(() => {
    const ch = new Chart(ref.current as HTMLCanvasElement, def.cfg());
    return () => ch.destroy();
  }, [def]);
  const b = def.box;
  return <canvas ref={ref} width={b.w} height={b.h} style={{ position: 'absolute', left: b.l, top: b.t, width: b.w, height: b.h }} />;
}

function Rich({ t }: { t: string }) {
  return (
    <>
      {parse(t).map((s, i) => (
        <span key={i} style={{ fontStyle: s.i ? 'italic' : 'normal', fontSize: s.sup ? '0.68em' : undefined, position: s.sup ? 'relative' : undefined, top: s.sup ? '-0.45em' : undefined }}>{s.t}</span>
      ))}
    </>
  );
}

function Txt({ x, y, t, size = 12, bold = false, anchor = 'middle', color = '#000', rot = 0 }: any) {
  const tx = anchor === 'middle' ? '-50%' : anchor === 'end' ? '-100%' : '0';
  return (
    <div style={{ position: 'absolute', left: x, top: y - size / 2, fontSize: size, lineHeight: `${size}px`, fontWeight: bold ? 700 : 400, color, whiteSpace: 'nowrap', transform: `translateX(${tx}) rotate(${rot}deg)` }}>
      <Rich t={t} />
    </div>
  );
}

const letters: [string, number, number][] = [
  ['a', 0, 24], ['b', 388, 24], ['c', 0, 230], ['d', 112, 230], ['e', 276, 230], ['f', 404, 230], ['g', 546, 230], ['h', 662, 230],
  ['i', 4, 405], ['j', 146, 405], ['k', 289, 405], ['l', 402, 405], ['m', 512, 405], ['n', 0, 586], ['o', 0, 803], ['p', 392, 803],
];

const titles: [string, number, number][] = [
  ['MPP', 68, 17], ['CMP', 158, 17], ['GMP', 257, 17], ['CLP', 350, 17],
  ['PMN', 455, 23], ['Ly6C^{+}', 548, 12], ['mono', 548, 27], ['B220^{hi}', 643, 12], ['B cell', 643, 27], ['B220^{lo}', 737, 12], ['B cell', 737, 27],
  ['GMP', 65, 245], ['GMP', 367, 240], ['BMM', 620, 263], ['GMP', 85, 428], ['Kidney', 477, 430],
  ['PMN', 115, 590], ['Ly6C^{+}', 190, 578], ['monocyte', 190, 595], ['T cell', 292, 590], ['B cell', 380, 588],
  ['PMN', 505, 583], ['Ly6C^{+} Mφ', 577, 583], ['T cell', 668, 583], ['B cell', 750, 583],
  ['MPP', 88, 812], ['CMP', 170, 812], ['GMP', 260, 812], ['CLP', 347, 812],
  ['MPP', 462, 812], ['CMP', 553, 812], ['GMP', 652, 812], ['CLP', 737, 812],
];

function Sq({ x, y, c }: any) {
  return <div style={{ position: 'absolute', left: x, top: y - 4, width: 7, height: 7, background: c, border: '1px solid #333' }} />;
}
function Dot({ x, y, fill, stroke }: any) {
  return <div style={{ position: 'absolute', left: x - 4, top: y - 4, width: 6, height: 6, borderRadius: '50%', background: fill, border: `1.2px solid ${stroke}` }} />;
}
function Sw({ y, c, h }: any) {
  return <div style={{ position: 'absolute', left: 670, top: y - h / 2, width: 14, height: h, background: c }} />;
}

export default function App() {
  return (
    <div style={{ position: 'absolute', left: 0, top: 0, width: 800, height: 913, overflow: 'hidden', background: '#fff', fontFamily: FONT, color: '#000' }}>
      {allCharts.map((d, i) => <ChartBox key={i} def={d} />)}
      {letters.map(([t, x, b], i) => (
        <div key={'L' + i} style={{ position: 'absolute', left: x, top: b - 0.846 * 30, fontSize: 30, lineHeight: '30px' }}>{t}</div>
      ))}
      {titles.map(([t, x, y], i) => <Txt key={'T' + i} x={x} y={y} t={t} size={13} bold />)}
      <Txt x={65} y={370} t="hpi" size={13} />
      <Txt x={200} y={362} t="hpi" size={13} />
      <Txt x={737} y={390} t="E-cadherin" size={13} />
      {/* g legend */}
      <Sq x={575} y={223} c="#fff" /><Txt x={587} y={223} t="Vehicle" size={13} anchor="start" />
      <Sq x={575} y={240} c="#777" /><Txt x={587} y={240} t="XMU-MP-1" size={13} anchor="start" />
      {/* h legend */}
      <Sw y={244} c="#c4c4c4" h={6} /><Txt x={698} y={244} t="Control Ab" size={13} anchor="start" />
      <Sw y={258} c="#000" h={3} /><Txt x={698} y={258} t="Naive" size={13} anchor="start" />
      <Sw y={272} c="#2b2bf0" h={3} /><Txt x={698} y={272} t="Thioglycollate _i.p._" size={13} anchor="start" />
      <Sw y={286} c="#f03a3a" h={3} /><Txt x={698} y={286} t="Candida infection" size={13} anchor="start" />
      {/* i legend */}
      <Sq x={40} y={393} c="#fff" /><Txt x={52} y={393} t="Control Ab" size={13} anchor="start" />
      <Sq x={40} y={409} c="#777" /><Txt x={52} y={409} t="Anti-E-cad Ab" size={13} anchor="start" />
      {/* j legend */}
      <Sq x={168} y={396} c="#fff" /><Txt x={180} y={396} t="-" size={13} anchor="start" />
      <Sq x={168} y={416} c="#ffff00" /><Txt x={180} y={416} t="TNF" size={13} anchor="start" />
      <Sq x={168} y={435} c="#ff0000" /><Txt x={180} y={435} t="LPS" size={13} anchor="start" />
      <Sq x={213} y={407} c="#00b050" /><Txt x={225} y={407} t="G-CSF" size={13} anchor="start" />
      <Sq x={213} y={424} c="#4f81bd" /><Txt x={225} y={424} t="GM-CSF" size={13} anchor="start" />
      {/* m legend */}
      <Dot x={698} y={468} fill="#fff" stroke="#000" /><Txt x={708} y={468} t="WT naive" size={14} anchor="start" />
      <Dot x={698} y={484} fill="#777" stroke="#000" /><Txt x={708} y={484} t="_Spp1_^{–/–} naive" size={14} anchor="start" />
      <Dot x={698} y={500} fill="#fff" stroke={RED} /><Txt x={708} y={500} t="WT CA _i.v._" size={14} anchor="start" />
      <Dot x={698} y={516} fill={RED} stroke={RED} /><Txt x={708} y={516} t="_Spp1_^{–/–} CA _i.v._" size={14} anchor="start" />
      {/* n section labels */}
      <div style={{ position: 'absolute', left: 35, top: 597, width: 1, height: 176, background: '#000' }} />
      <Txt x={26} y={683} t="BM" size={13} bold rot={-90} />
      <div style={{ position: 'absolute', left: 447, top: 600, width: 1, height: 172, background: '#000' }} />
      <Txt x={437} y={682} t="Spleen" size={13} bold rot={-90} />
    </div>
  );
}
